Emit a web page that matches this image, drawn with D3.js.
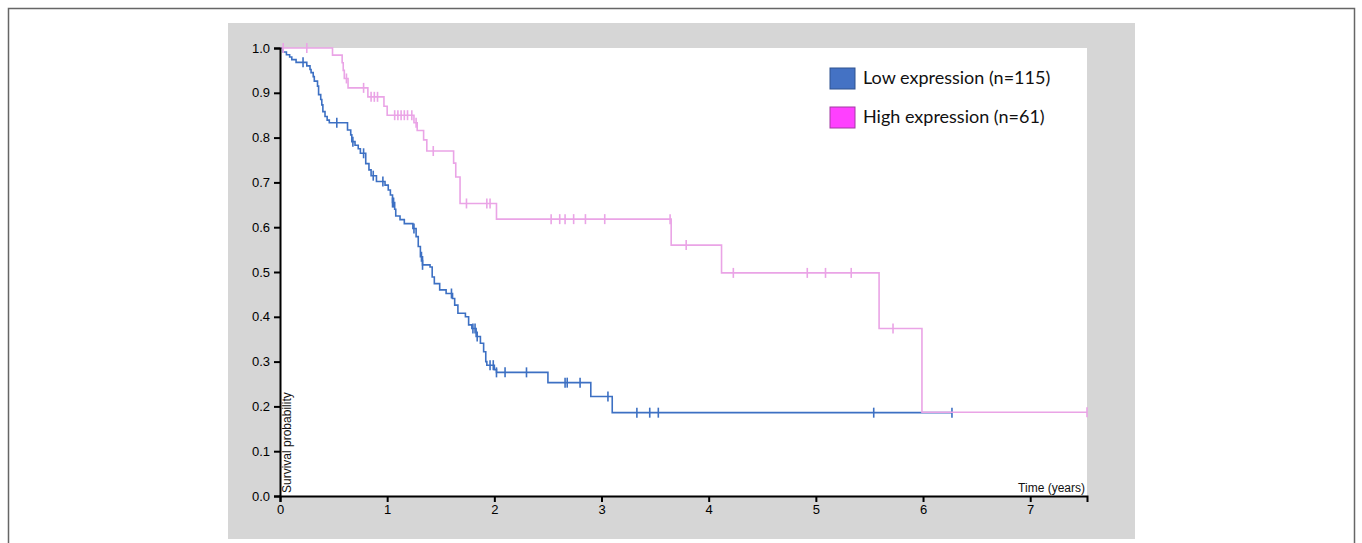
<!DOCTYPE html>
<html lang="en">
<head>
  <meta charset="utf-8">
  <title>Kaplan-Meier survival</title>
  <style>
    body { margin:0; background:#fff; }
    svg  { display:block; }
    .axis text { font:13px "Liberation Sans", Arial, sans-serif; fill:#000; }
    .axis path, .axis line { stroke:#000; }
    .lbl { font:12px "Liberation Sans", Arial, sans-serif; fill:#111; }
    .legend text { font:18px Lato, "Open Sans", sans-serif; fill:#111; }
  </style>
</head>
<body>
<script src="https://d3js.org/d3.v7.min.js"></script>
<script>

// ---- data ----
// step points [time in years, survival after the step]
const lowSteps = [
  [0.03,0.991],[0.06,0.985],[0.09,0.980],[0.11,0.974],[0.15,0.968],[0.25,0.960],
  [0.28,0.952],[0.29,0.945],[0.31,0.936],[0.32,0.926],[0.35,0.915],[0.36,0.896],
  [0.38,0.885],[0.39,0.873],[0.40,0.858],[0.42,0.847],[0.44,0.839],[0.46,0.833],
  [0.63,0.817],[0.66,0.806],[0.67,0.791],[0.70,0.783],[0.73,0.775],[0.75,0.765],
  [0.80,0.742],[0.83,0.728],[0.85,0.715],[0.90,0.702],[0.98,0.694],[1.01,0.683],
  [1.03,0.672],[1.05,0.655],[1.07,0.640],[1.08,0.625],[1.12,0.617],[1.16,0.608],
  [1.24,0.597],[1.27,0.579],[1.29,0.557],[1.31,0.534],[1.33,0.516],[1.40,0.511],
  [1.42,0.489],[1.44,0.474],[1.49,0.460],[1.55,0.452],[1.61,0.441],[1.63,0.426],
  [1.66,0.408],[1.73,0.400],[1.76,0.382],[1.79,0.374],[1.83,0.356],[1.87,0.341],
  [1.90,0.322],[1.92,0.300],[1.93,0.292],[2.00,0.282],[2.02,0.276],[2.50,0.253],
  [2.90,0.222],[3.10,0.186]
];
const lowCensor = [0.215,0.53,0.68,0.78,0.87,0.96,1.05,1.06,1.25,1.32,1.33,1.60,
  1.80,1.82,1.84,1.96,1.99,2.02,2.10,2.30,2.66,2.68,2.80,3.06,3.33,3.45,3.53,5.54,6.27];

const highSteps = [
  [0.49,0.984],[0.58,0.967],[0.59,0.950],[0.60,0.932],[0.635,0.911],[0.82,0.891],
  [0.97,0.870],[1.00,0.850],[1.25,0.833],[1.28,0.816],[1.34,0.795],[1.37,0.770],
  [1.62,0.743],[1.64,0.712],[1.68,0.653],[2.02,0.618],[3.65,0.560],[4.12,0.498],
  [5.59,0.374],[5.99,0.187]
];
const highCensor = [0.03,0.25,0.62,0.78,0.85,0.88,0.91,1.07,1.10,1.13,1.16,1.19,1.23,
  1.27,1.43,1.74,1.93,1.96,2.53,2.61,2.66,2.74,2.85,3.03,3.64,3.79,4.23,4.92,5.09,5.33,5.72,7.53];

const yTicks = [0,0.1,0.2,0.3,0.4,0.5,0.6,0.7,0.8,0.9,1.0];
const xTicks = [0,1,2,3,4,5,6,7];
const groups = [
  { name:"Low expression (n=115)",  steps:lowSteps,  censor:lowCensor,  line:"#3d70c3", box:"#4472c4", edge:"#2f528f" },
  { name:"High expression (n=61)",  steps:highSteps, censor:highCensor, line:"#eaa4e6", box:"#ff40ff", edge:"#a23aa2" }
];

const W = 1362, H = 543;
const svg = d3.select("body").append("svg").attr("width", W).attr("height", H);

// outer frame + grey panel
svg.append("rect").attr("x", 8.5).attr("y", 8.5).attr("width", 1346).attr("height", 600)
  .attr("fill", "#fff").attr("stroke", "#666").attr("stroke-width", 1.5);
svg.append("rect").attr("x", 228).attr("y", 23).attr("width", 907).attr("height", 516)
  .attr("fill", "#d6d6d6");

const x = d3.scaleLinear().domain([0, 7.53]).range([280, 1087]);
const y = d3.scaleLinear().domain([0, 1]).range([496, 48]);

svg.append("rect").attr("x", x(0)).attr("y", y(1))
  .attr("width", x(7.53) - x(0)).attr("height", y(0) - y(1)).attr("fill", "#fff");

// survival at time t (step function)
function survAt(steps, t) {
  let s = 1;
  for (const [st, sv] of steps) { if (st <= t) s = sv; else break; }
  return s;
}

const line = d3.line().curve(d3.curveStepAfter).x(d => x(d[0])).y(d => y(d[1]));

groups.forEach(g => {
  const end = d3.max(g.censor);
  const pts = [[0, 1], ...g.steps, [end, survAt(g.steps, end)]];
  svg.append("path").attr("d", line(pts))
    .attr("fill", "none").attr("stroke", g.line).attr("stroke-width", 1.6);
  svg.append("g").selectAll("line").data(g.censor).join("line")
    .attr("x1", d => x(d)).attr("x2", d => x(d))
    .attr("y1", d => y(survAt(g.steps, d)) - 5)
    .attr("y2", d => y(survAt(g.steps, d)) + 5)
    .attr("stroke", g.line).attr("stroke-width", 1.6);
});

// axes
const gy = svg.append("g").attr("class", "axis").attr("transform", `translate(${x(0)},0)`)
  .call(d3.axisLeft(y).tickValues(yTicks).tickFormat(d3.format(".1f")).tickSize(6).tickPadding(4));
const gx = svg.append("g").attr("class", "axis").attr("transform", `translate(0,${y(0)})`)
  .call(d3.axisBottom(x).tickValues(xTicks).tickFormat(d3.format("d")).tickSize(6));
svg.selectAll(".axis path, .axis line").attr("stroke-width", 2);

svg.append("text").attr("class", "lbl")
  .attr("transform", `translate(291,493) rotate(-90)`)
  .text("Survival probability");
svg.append("text").attr("class", "lbl")
  .attr("x", 1085).attr("y", 492).attr("text-anchor", "end")
  .text("Time (years)");

// legend
const legend = svg.append("g").attr("class", "legend").attr("transform", "translate(830,68)");
legend.selectAll("rect").data(groups).join("rect")
  .attr("x", 0).attr("y", (d, i) => i * 39)
  .attr("width", 25).attr("height", 21)
  .attr("fill", d => d.box).attr("stroke", d => d.edge).attr("stroke-width", 1);
legend.selectAll("text").data(groups).join("text")
  .attr("x", 33).attr("y", (d, i) => i * 39 + 16)
  .text(d => d.name);

</script>
</body>
</html>
